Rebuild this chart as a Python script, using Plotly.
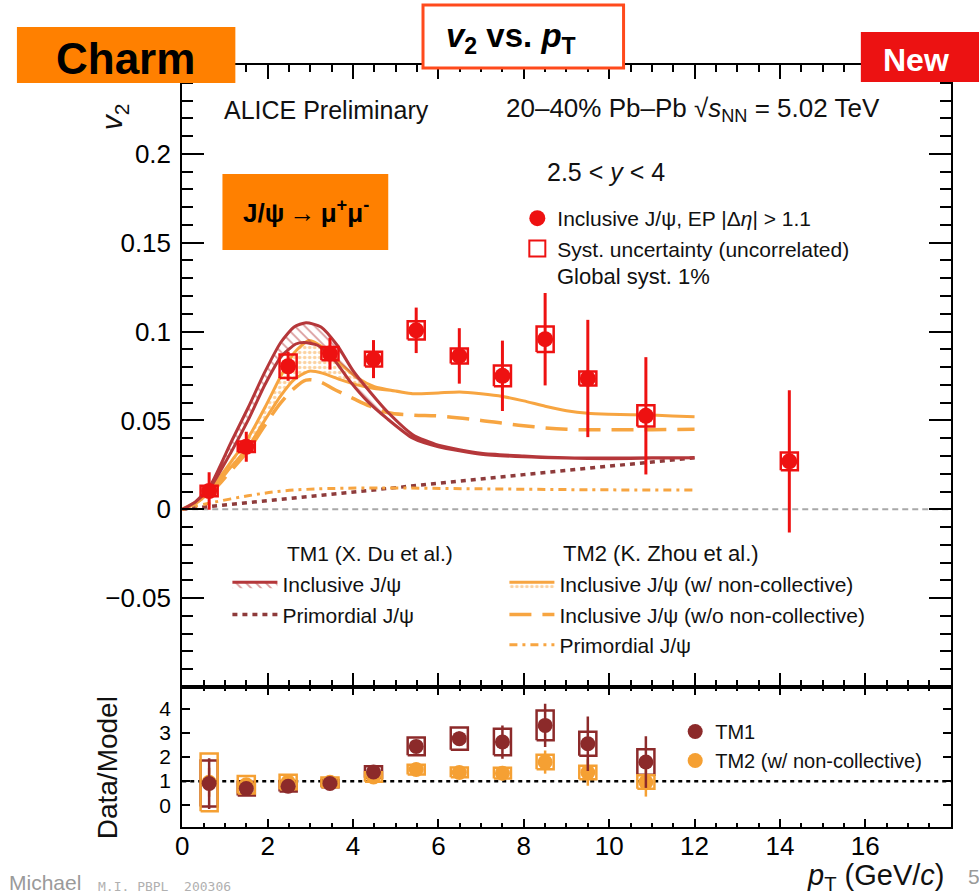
import plotly.graph_objects as go

# ---------------- data ----------------
pt = [0.63, 1.50, 2.48, 3.46, 4.48, 5.48, 6.49, 7.50, 8.50, 9.50, 10.86, 14.22]
v2 = [0.0103, 0.0352, 0.0805, 0.0876, 0.0845, 0.1007, 0.0863, 0.0751, 0.0957, 0.0736, 0.0526, 0.0270]
v2_stat = [0.0105, 0.0084, 0.0082, 0.0090, 0.0107, 0.0128, 0.0156, 0.0198, 0.0260, 0.0330, 0.0330, 0.0400]
v2_syst = [0.0030, 0.0030, 0.0066, 0.0037, 0.0042, 0.0051, 0.0042, 0.0058, 0.0072, 0.0040, 0.0060, 0.0050]

ratio_pt = [0.63, 1.50, 2.48, 3.46, 4.48, 5.48, 6.49, 7.50, 8.50, 9.50, 10.86]
tm1_ratio = [0.90, 0.69, 0.79, 0.90, 1.38, 2.44, 2.76, 2.62, 3.31, 2.55, 1.79]
tm1_ratio_stat = [1.05, 0.12, 0.12, 0.12, 0.18, 0.22, 0.30, 0.69, 0.90, 1.13, 1.07]
tm1_ratio_syst = [0.95, 0.28, 0.22, 0.15, 0.24, 0.37, 0.46, 0.55, 0.62, 0.50, 0.53]
tm2_ratio = [0.95, 0.85, 0.96, 0.95, 1.17, 1.48, 1.36, 1.33, 1.79, 1.36, 0.96]
tm2_ratio_stat = [0.60, 0.10, 0.10, 0.10, 0.15, 0.15, 0.18, 0.30, 0.48, 0.55, 0.60]
tm2_ratio_syst = [1.20, 0.36, 0.30, 0.20, 0.20, 0.20, 0.20, 0.22, 0.30, 0.28, 0.28]

tm1_up_pt = [0, 0.3, 0.65, 1.15, 1.54, 1.93, 2.31, 2.62, 2.90, 3.25, 3.63, 4.00, 4.40, 4.80, 5.40, 6.00, 7.00, 8.00, 9.00, 10.0, 11.0, 12.0]
tm1_up_v2 = [0, 0.004, 0.013, 0.038, 0.057, 0.077, 0.094, 0.1026, 0.105, 0.1026, 0.0923, 0.078, 0.066, 0.055, 0.042, 0.036, 0.0315, 0.030, 0.029, 0.0288, 0.029, 0.029]
tm1_lo_pt = [0, 0.3, 0.65, 1.15, 1.54, 1.93, 2.31, 2.66, 2.86, 3.17, 3.56, 3.94, 4.33, 4.80, 5.40, 6.00, 7.00, 8.00, 9.00, 10.0, 11.0, 12.0]
tm1_lo_v2 = [0, 0.004, 0.012, 0.0324, 0.050, 0.0698, 0.0857, 0.093, 0.0938, 0.0923, 0.084, 0.0717, 0.061, 0.051, 0.040, 0.0352, 0.031, 0.0295, 0.0288, 0.0285, 0.0288, 0.029]
tm1_prim_pt = [0, 2, 4, 6, 8, 10, 12]
tm1_prim_v2 = [0, 0.0050, 0.0098, 0.0146, 0.0195, 0.0243, 0.0290]

tm2_up_pt = [0, 0.3, 0.65, 1.15, 1.54, 1.93, 2.31, 2.62, 2.97, 3.30, 3.70, 4.10, 4.50, 5.00, 5.40, 6.00, 6.50, 7.00, 7.50, 8.00, 8.50, 9.00, 9.50, 10.0, 11.0, 12.0]
tm2_up_v2 = [0, 0.003, 0.011, 0.027, 0.040, 0.057, 0.075, 0.088, 0.095, 0.091, 0.082, 0.074, 0.069, 0.0665, 0.065, 0.0655, 0.066, 0.065, 0.0635, 0.061, 0.058, 0.0555, 0.054, 0.0535, 0.053, 0.052]
tm2_lo_pt = [0, 0.3, 0.65, 1.15, 1.54, 1.93, 2.31, 2.62, 2.97, 3.30, 3.70, 4.10, 4.50, 5.00, 5.40, 6.00, 6.50, 7.00, 7.50, 8.00, 8.50, 9.00, 9.50, 10.0, 11.0, 12.0]
tm2_lo_v2 = [0, 0.003, 0.010, 0.024, 0.035, 0.050, 0.064, 0.073, 0.0777, 0.0765, 0.073, 0.070, 0.068, 0.0665, 0.065, 0.0655, 0.066, 0.065, 0.0635, 0.061, 0.058, 0.0555, 0.054, 0.0535, 0.053, 0.052]
tm2_nc_pt = [0, 0.65, 1.15, 1.54, 1.93, 2.31, 2.62, 2.90, 3.20, 3.60, 4.00, 4.40, 4.80, 5.40, 6.00, 7.00, 8.00, 9.00, 10.0, 11.0, 12.0]
tm2_nc_v2 = [0, 0.009, 0.022, 0.033, 0.047, 0.060, 0.068, 0.0727, 0.072, 0.067, 0.0624, 0.058, 0.0545, 0.053, 0.0525, 0.050, 0.047, 0.045, 0.0448, 0.0448, 0.045]
tm2_prim_pt = [0, 0.65, 1.54, 2.31, 3.10, 4.60, 7.00, 9.50, 12.0]
tm2_prim_v2 = [0, 0.0035, 0.0076, 0.0102, 0.0114, 0.0120, 0.0115, 0.0110, 0.0108]

x_range = [0, 18]
v2_range = [-0.1, 0.25]
ratio_range = [-0.9, 4.9]
v2_tickvals = [-0.05, 0, 0.05, 0.1, 0.15, 0.2]
v2_ticktext = ["\u22120.05", "0", "0.05", "0.1", "0.15", "0.2"]
x_tickvals = [0, 2, 4, 6, 8, 10, 12, 14, 16]
x_ticktext = ["0", "2", "4", "6", "8", "10", "12", "14", "16"]
ratio_tickvals = [0, 1, 2, 3, 4]
ratio_ticktext = ["0", "1", "2", "3", "4"]

# ---------------- style ----------------
W, H = 979, 895
def px(x): return x / W
def py(y): return 1 - y / H

FONT = "Liberation Sans, Arial, Helvetica, sans-serif"
RED = "#EE1111"
TM1C = "#B5373A"
TM1P = "#8E3B3B"
TM2C = "#F7A541"
TM1M = "#8C2A2A"
TM2M = "#F5A033"
BOX_HW = 0.2


def boxes(xs, ys, hs, w):
    bx, by = [], []
    for x, y, h in zip(xs, ys, hs):
        bx += [x - w, x + w, x + w, x - w, x - w, None]
        by += [y - h, y - h, y + h, y + h, y - h, None]
    return bx, by


fig = go.Figure()

# model curves
fig.add_trace(go.Scatter(x=tm1_prim_pt, y=tm1_prim_v2, mode="lines",
                         line=dict(color=TM1P, width=3.5, dash="5px,5px"),
                         name="Primordial J/\u03c8", legend="legend2", legendrank=2))
fig.add_trace(go.Scatter(x=tm2_prim_pt, y=tm2_prim_v2, mode="lines",
                         line=dict(color=TM2C, width=3, dash="8px,5px,3px,5px", shape="spline"),
                         name="Primordial J/\u03c8", legend="legend3", legendrank=3))
fig.add_trace(go.Scatter(x=tm2_nc_pt, y=tm2_nc_v2, mode="lines",
                         line=dict(color=TM2C, width=3.5, dash="22px,11px", shape="spline"),
                         name="Inclusive J/\u03c8 (w/o non-collective)", legend="legend3", legendrank=2))
fig.add_trace(go.Scatter(x=tm2_up_pt + tm2_lo_pt[::-1], y=tm2_up_v2 + tm2_lo_v2[::-1],
                         mode="lines", fill="toself", fillcolor="rgba(0,0,0,0)",
                         fillpattern=dict(shape=".", fgcolor=TM2C, bgcolor="rgba(255,255,255,0)", size=5, solidity=0.4),
                         line=dict(color=TM2C, width=3, shape="spline", smoothing=0.6),
                         name="Inclusive J/\u03c8 (w/ non-collective)", legend="legend3", legendrank=1))
fig.add_trace(go.Scatter(x=tm1_up_pt + tm1_lo_pt[::-1], y=tm1_up_v2 + tm1_lo_v2[::-1],
                         mode="lines", fill="toself", fillcolor="rgba(0,0,0,0)",
                         fillpattern=dict(shape="\\", fgcolor=TM1C, bgcolor="rgba(255,255,255,0)", size=7, solidity=0.25),
                         line=dict(color=TM1C, width=3, shape="spline", smoothing=0.6),
                         name="Inclusive J/\u03c8", legend="legend2", legendrank=1))

# data
bx, by = boxes(pt, v2, v2_syst, BOX_HW)
fig.add_trace(go.Scatter(x=bx, y=by, mode="lines", line=dict(color=RED, width=2.5),
                         showlegend=False, hoverinfo="skip"))
fig.add_trace(go.Scatter(x=pt, y=v2, mode="markers",
                         marker=dict(color=RED, size=16, symbol="circle"),
                         error_y=dict(type="data", array=v2_stat, color=RED, thickness=3, width=0),
                         name="Inclusive J/\u03c8, EP |\u0394<i>\u03b7</i>| &gt; 1.1", legend="legend", legendrank=1))
fig.add_trace(go.Scatter(x=[None], y=[None], mode="markers",
                         marker=dict(color=RED, size=18, symbol="square-open",
                                     line=dict(color=RED, width=2)),
                         name="Syst. uncertainty (uncorrelated)", legend="legend", legendrank=2))

# ratio panel
tb2x, tb2y = boxes(ratio_pt, tm1_ratio, tm1_ratio_syst, BOX_HW)
fig.add_trace(go.Scatter(x=tb2x, y=tb2y, mode="lines", line=dict(color=TM1M, width=2.5),
                         showlegend=False, xaxis="x2", yaxis="y2", hoverinfo="skip"))
tb1x, tb1y = boxes(ratio_pt, tm2_ratio, tm2_ratio_syst, BOX_HW)
fig.add_trace(go.Scatter(x=tb1x, y=tb1y, mode="lines", line=dict(color=TM2M, width=2.5),
                         showlegend=False, xaxis="x2", yaxis="y2", hoverinfo="skip"))
fig.add_trace(go.Scatter(x=ratio_pt, y=tm2_ratio, mode="markers", xaxis="x2", yaxis="y2",
                         marker=dict(color=TM2M, size=15),
                         error_y=dict(type="data", array=tm2_ratio_stat, color=TM2M, thickness=2.5, width=0),
                         name="TM2 (w/ non-collective)", legend="legend4", legendrank=2))
fig.add_trace(go.Scatter(x=ratio_pt, y=tm1_ratio, mode="markers", xaxis="x2", yaxis="y2",
                         marker=dict(color=TM1M, size=15),
                         error_y=dict(type="data", array=tm1_ratio_stat, color=TM1M, thickness=2.5, width=0),
                         name="TM1", legend="legend4", legendrank=1))

# reference lines
fig.add_shape(type="line", xref="x domain", yref="y", x0=0, x1=1, y0=0, y1=0,
              line=dict(color="#A8A8A8", width=2, dash="6px,4px"), layer="below")
fig.add_shape(type="line", xref="x2 domain", yref="y2", x0=0, x1=1, y0=1, y1=1,
              line=dict(color="black", width=2.5, dash="4px,4px"), layer="below")

axis_common = dict(showline=True, linecolor="black", linewidth=2, mirror="allticks",
                   ticks="inside", tickcolor="black", tickwidth=1.5, showgrid=False,
                   zeroline=False)
tf26 = dict(family=FONT, size=26, color="black")
xdom = [px(176.5), px(950.5)]

fig.update_layout(
    width=W, height=H, autosize=False,
    margin=dict(l=0, r=0, t=0, b=0),
    paper_bgcolor="white", plot_bgcolor="white",
    font=dict(family=FONT, color="black"),
    xaxis=dict(domain=xdom, range=x_range, anchor="y", showticklabels=False,
               tickmode="array", tickvals=x_tickvals, ticktext=x_ticktext, ticklen=14,
               tickfont=tf26,
               minor=dict(ticks="inside", ticklen=7, tickmode="linear", tick0=0, dtick=0.5,
                          tickcolor="black", tickwidth=1.5),
               **axis_common),
    yaxis=dict(domain=[py(687), py(65)], range=v2_range, anchor="x",
               tickmode="array", tickvals=v2_tickvals, ticktext=v2_ticktext, ticklen=22,
               ticklabelstandoff=4, tickfont=tf26,
               minor=dict(ticks="inside", ticklen=11, tickmode="linear", tick0=0, dtick=0.01,
                          tickcolor="black", tickwidth=1.5),
               **axis_common),
    xaxis2=dict(domain=xdom, range=x_range, anchor="y2", matches="x",
                tickmode="array", tickvals=x_tickvals, ticktext=x_ticktext, ticklen=8,
                ticklabelstandoff=-5, tickfont=tf26,
                minor=dict(ticks="inside", ticklen=4, tickmode="linear", tick0=0, dtick=0.5,
                           tickcolor="black", tickwidth=1.5),
                **axis_common),
    yaxis2=dict(domain=[py(827), py(687)], range=ratio_range, anchor="x2",
                tickmode="array", tickvals=ratio_tickvals, ticktext=ratio_ticktext, ticklen=8,
                ticklabelstandoff=5, tickfont=dict(family=FONT, size=21, color="black"),
                **axis_common),
    legend=dict(x=px(514), y=py(198), xanchor="left", yanchor="top", bgcolor="rgba(0,0,0,0)",
                font=dict(family=FONT, size=21, color="#111"), tracegroupgap=0, itemwidth=30),
    legend2=dict(x=px(222), y=py(564), xanchor="left", yanchor="top", bgcolor="rgba(0,0,0,0)",
                 font=dict(family=FONT, size=21, color="#111"), itemwidth=45),
    legend3=dict(x=px(501), y=py(564), xanchor="left", yanchor="top", bgcolor="rgba(0,0,0,0)",
                 font=dict(family=FONT, size=21, color="#111"), itemwidth=45),
    legend4=dict(x=px(673), y=py(712), xanchor="left", yanchor="top", bgcolor="rgba(0,0,0,0)",
                 font=dict(family=FONT, size=20, color="#111"), itemwidth=30),
)

annots = [
    dict(text="ALICE Preliminary", x=px(217), y=py(110), xanchor="left", size=25),
    dict(text="20\u201340% Pb\u2013Pb \u221a<i>s</i><sub>NN</sub> = 5.02 TeV", x=px(881), y=py(110), xanchor="right", size=26),
    dict(text="2.5 &lt; <i>y</i> &lt; 4", x=px(542), y=py(172), xanchor="left", size=25),
    dict(text="Global syst. 1%", x=px(552), y=py(276), xanchor="left", size=22),
    dict(text="TM1 (X. Du et al.)", x=px(280), y=py(553), xanchor="left", size=21),
    dict(text="TM2 (K. Zhou et al.)", x=px(558), y=py(553), xanchor="left", size=22),
    dict(text="<i>v</i><sub>2</sub>", x=px(107), y=py(117), xanchor="center", size=30, angle=-90),
    dict(text="Data/Model", x=px(101), y=py(768), xanchor="center", size=28, angle=-90),
    dict(text="<i>p</i><sub>T</sub> (GeV/<i>c</i>)", x=px(947), y=py(877), xanchor="right", size=29),
]
for a in annots:
    fig.add_annotation(text=a["text"], x=a["x"], y=a["y"], xref="paper", yref="paper",
                       xanchor=a["xanchor"], yanchor="middle", showarrow=False,
                       textangle=a.get("angle", 0),
                       font=dict(family=FONT, size=a["size"], color="#111"))

# slide decorations
fig.add_shape(type="rect", xref="paper", yref="paper", x0=px(10), x1=px(230), y0=py(83), y1=py(27),
              fillcolor="#FF8000", line=dict(width=0), layer="above")
fig.add_shape(type="rect", xref="paper", yref="paper", x0=px(419), x1=px(621), y0=py(68), y1=py(5),
              fillcolor="white", line=dict(color="#FF4A1C", width=3), layer="above")
fig.add_shape(type="rect", xref="paper", yref="paper", x0=px(860), x1=px(979), y0=py(82), y1=py(32),
              fillcolor="#EC1212", line=dict(width=0), layer="above")
fig.add_shape(type="rect", xref="paper", yref="paper", x0=px(217), x1=px(384), y0=py(250), y1=py(174),
              fillcolor="#FF8000", line=dict(width=0), layer="above")
deco = [
    dict(text="<b>Charm</b>", x=px(119), y=py(58), size=44, color="black"),
    dict(text="<b><i>v</i><sub>2</sub> vs. <i>p</i><sub>T</sub></b>", x=px(508), y=py(38), size=33, color="black"),
    dict(text="<b>New</b>", x=px(916), y=py(60), size=32, color="white"),
    dict(text="<b>J/\u03c8\u2009\u2192\u2009\u03bc<sup>+</sup>\u03bc<sup>-</sup></b>", x=px(301), y=py(212), size=26, color="black"),
]
for d in deco:
    fig.add_annotation(text=d["text"], x=d["x"], y=d["y"], xref="paper", yref="paper",
                       xanchor="center", yanchor="middle", showarrow=False,
                       font=dict(family=FONT, size=d["size"], color=d["color"]))

fig.add_annotation(text="Michael", x=0, y=py(882), xref="paper", yref="paper", xanchor="left",
                   yanchor="middle", showarrow=False, font=dict(family=FONT, size=21, color="#9a9a9a"))
fig.add_annotation(text="M.I. PBPL  200306", x=px(90), y=py(886), xref="paper", yref="paper",
                   xanchor="left", yanchor="middle", showarrow=False,
                   font=dict(family="DejaVu Sans Mono", size=13, color="#b0b0b0"))
fig.add_annotation(text="5", x=px(966), y=py(876), xref="paper", yref="paper", xanchor="left",
                   yanchor="middle", showarrow=False, font=dict(family=FONT, size=21, color="#9a9a9a"))

fig.write_html("out.html")
